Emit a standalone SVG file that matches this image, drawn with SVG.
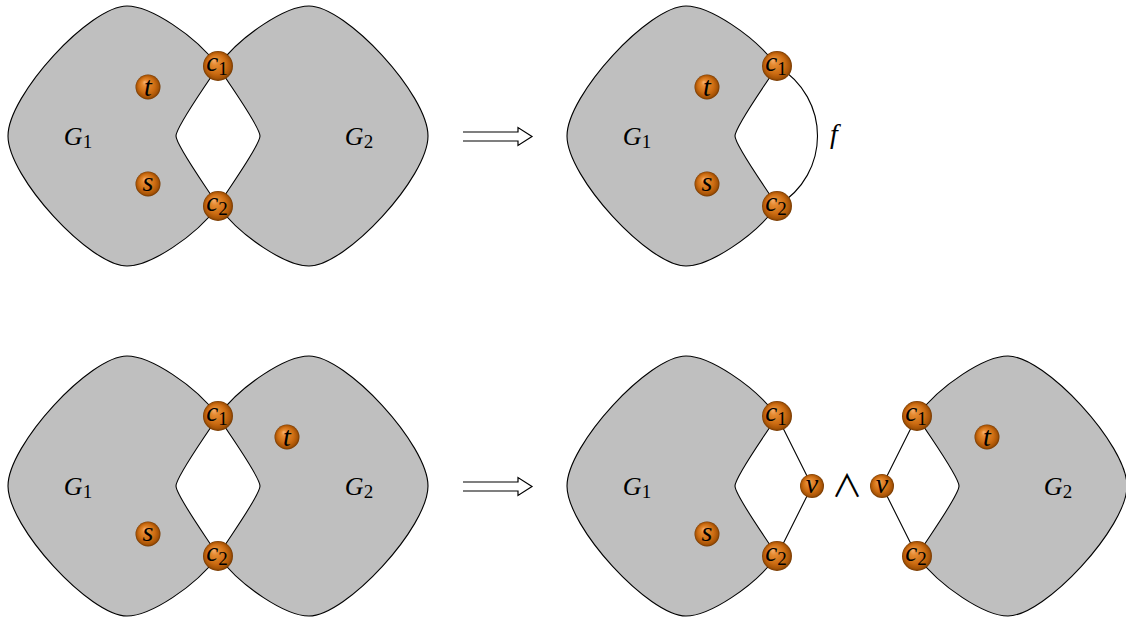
<svg xmlns="http://www.w3.org/2000/svg" xmlns:xlink="http://www.w3.org/1999/xlink" width="1126" height="617" viewBox="0 0 1126 617">
<style>
.shape{fill:#bfbfbf;stroke:#000;stroke-width:1.1}
.edge{fill:none;stroke:#000;stroke-width:1.1}
.ball{fill:url(#ballg)}
.arrow{fill:none;stroke:#000;stroke-width:1.2;stroke-linejoin:miter}
.lab{font-family:"Liberation Serif","DejaVu Serif",serif;font-style:italic;text-anchor:middle;fill:#000}
.sub{font-style:normal}
</style>
<defs>
<radialGradient id="ballg" cx="50%" cy="50%" r="50%" fx="36%" fy="30%">
<stop offset="0%" stop-color="#f6b070"/>
<stop offset="25%" stop-color="#e58a30"/>
<stop offset="65%" stop-color="#cc6c12"/>
<stop offset="88%" stop-color="#a85406"/>
<stop offset="100%" stop-color="#743800"/>
</radialGradient>
<path id="gl" d="M218,66 C195,35 150,6 127,6 C90,6 8,95 8,136 C8,177 90,266 127,266 C150,266 195,237 218,206 C210,192 176,146 176,136 C176,126 210,80 218,66 Z"/>
<path id="imp" d="M463,132 H518 V127.5 L532,136.5 L518,145.5 V141 H463"/>
</defs>

<g id="shapes">
<use xlink:href="#gl" class="shape"/>
<use xlink:href="#gl" class="shape" transform="translate(436,0) scale(-1,1)"/>
<use xlink:href="#gl" class="shape" transform="translate(559,0)"/>
<use xlink:href="#gl" class="shape" transform="translate(0,350)"/>
<use xlink:href="#gl" class="shape" transform="translate(436,350) scale(-1,1)"/>
<use xlink:href="#gl" class="shape" transform="translate(559,350)"/>
<use xlink:href="#gl" class="shape" transform="translate(1135,350) scale(-1,1)"/>
</g>

<g id="arrows">
<use xlink:href="#imp" class="arrow"/>
<use xlink:href="#imp" class="arrow" transform="translate(0,350)"/>
</g>

<g id="connectors">
<path class="edge" d="M777,66 C831,98 831,174 777,206"/>
<path class="edge" d="M777,416 L812,486 L777,556"/>
<path class="edge" d="M917,416 L882,486 L917,556"/>
</g>

<g id="labels">
<text class="lab" style="font-size:26px" x="78" y="145">G<tspan class="sub" style="font-size:19px" dy="3">1</tspan></text>
<text class="lab" style="font-size:26px" x="359" y="145">G<tspan class="sub" style="font-size:19px" dy="3">2</tspan></text>
<text class="lab" style="font-size:26px" x="637" y="145">G<tspan class="sub" style="font-size:19px" dy="3">1</tspan></text>
<text class="lab" style="font-size:28px" x="834" y="143">f</text>
<text class="lab" style="font-size:26px" x="78" y="495">G<tspan class="sub" style="font-size:19px" dy="3">1</tspan></text>
<text class="lab" style="font-size:26px" x="359" y="495">G<tspan class="sub" style="font-size:19px" dy="3">2</tspan></text>
<text class="lab" style="font-size:26px" x="637" y="495">G<tspan class="sub" style="font-size:19px" dy="3">1</tspan></text>
<text class="lab" style="font-size:26px" x="1058" y="495">G<tspan class="sub" style="font-size:19px" dy="3">2</tspan></text>
<text x="847" y="497" style="font-family:'Noto Sans CJK JP',sans-serif;font-size:31px;text-anchor:middle">∧</text>
</g>

<g id="nodes">
<g id="n-a-c1"><circle class="ball" cx="218" cy="66" r="15"/><text class="lab" style="font-size:27px" x="217" y="71">c<tspan class="sub" style="font-size:19px" dy="4">1</tspan></text></g>
<g id="n-a-c2"><circle class="ball" cx="218" cy="206" r="15"/><text class="lab" style="font-size:27px" x="217" y="211">c<tspan class="sub" style="font-size:19px" dy="4">2</tspan></text></g>
<g id="n-a-t"><circle class="ball" cx="148" cy="87" r="12.5"/><text class="lab" style="font-size:28px" x="148" y="96">t</text></g>
<g id="n-a-s"><circle class="ball" cx="148" cy="184" r="12.5"/><text class="lab" style="font-size:28px" x="148" y="191">s</text></g>

<g id="n-b-c1"><circle class="ball" cx="777" cy="66" r="15"/><text class="lab" style="font-size:27px" x="776" y="71">c<tspan class="sub" style="font-size:19px" dy="4">1</tspan></text></g>
<g id="n-b-c2"><circle class="ball" cx="777" cy="206" r="15"/><text class="lab" style="font-size:27px" x="776" y="211">c<tspan class="sub" style="font-size:19px" dy="4">2</tspan></text></g>
<g id="n-b-t"><circle class="ball" cx="707" cy="87" r="12.5"/><text class="lab" style="font-size:28px" x="707" y="96">t</text></g>
<g id="n-b-s"><circle class="ball" cx="707" cy="184" r="12.5"/><text class="lab" style="font-size:28px" x="707" y="191">s</text></g>

<g id="n-c-c1"><circle class="ball" cx="218" cy="416" r="15"/><text class="lab" style="font-size:27px" x="217" y="421">c<tspan class="sub" style="font-size:19px" dy="4">1</tspan></text></g>
<g id="n-c-c2"><circle class="ball" cx="218" cy="556" r="15"/><text class="lab" style="font-size:27px" x="217" y="561">c<tspan class="sub" style="font-size:19px" dy="4">2</tspan></text></g>
<g id="n-c-t"><circle class="ball" cx="287" cy="437" r="12.5"/><text class="lab" style="font-size:28px" x="287" y="446">t</text></g>
<g id="n-c-s"><circle class="ball" cx="148" cy="534" r="12.5"/><text class="lab" style="font-size:28px" x="148" y="541">s</text></g>

<g id="n-d-c1"><circle class="ball" cx="777" cy="416" r="15"/><text class="lab" style="font-size:27px" x="776" y="421">c<tspan class="sub" style="font-size:19px" dy="4">1</tspan></text></g>
<g id="n-d-c2"><circle class="ball" cx="777" cy="556" r="15"/><text class="lab" style="font-size:27px" x="776" y="561">c<tspan class="sub" style="font-size:19px" dy="4">2</tspan></text></g>
<g id="n-d-s"><circle class="ball" cx="707" cy="534" r="12.5"/><text class="lab" style="font-size:28px" x="707" y="541">s</text></g>
<g id="n-d-v"><circle class="ball" cx="812" cy="486" r="12"/><text class="lab" style="font-size:28px" x="812" y="493">v</text></g>

<g id="n-e-v"><circle class="ball" cx="882" cy="486" r="12"/><text class="lab" style="font-size:28px" x="882" y="493">v</text></g>
<g id="n-e-c1"><circle class="ball" cx="917" cy="416" r="15"/><text class="lab" style="font-size:27px" x="916" y="421">c<tspan class="sub" style="font-size:19px" dy="4">1</tspan></text></g>
<g id="n-e-c2"><circle class="ball" cx="917" cy="556" r="15"/><text class="lab" style="font-size:27px" x="916" y="561">c<tspan class="sub" style="font-size:19px" dy="4">2</tspan></text></g>
<g id="n-e-t"><circle class="ball" cx="987" cy="437" r="12.5"/><text class="lab" style="font-size:28px" x="987" y="446">t</text></g>
</g>
</svg>
